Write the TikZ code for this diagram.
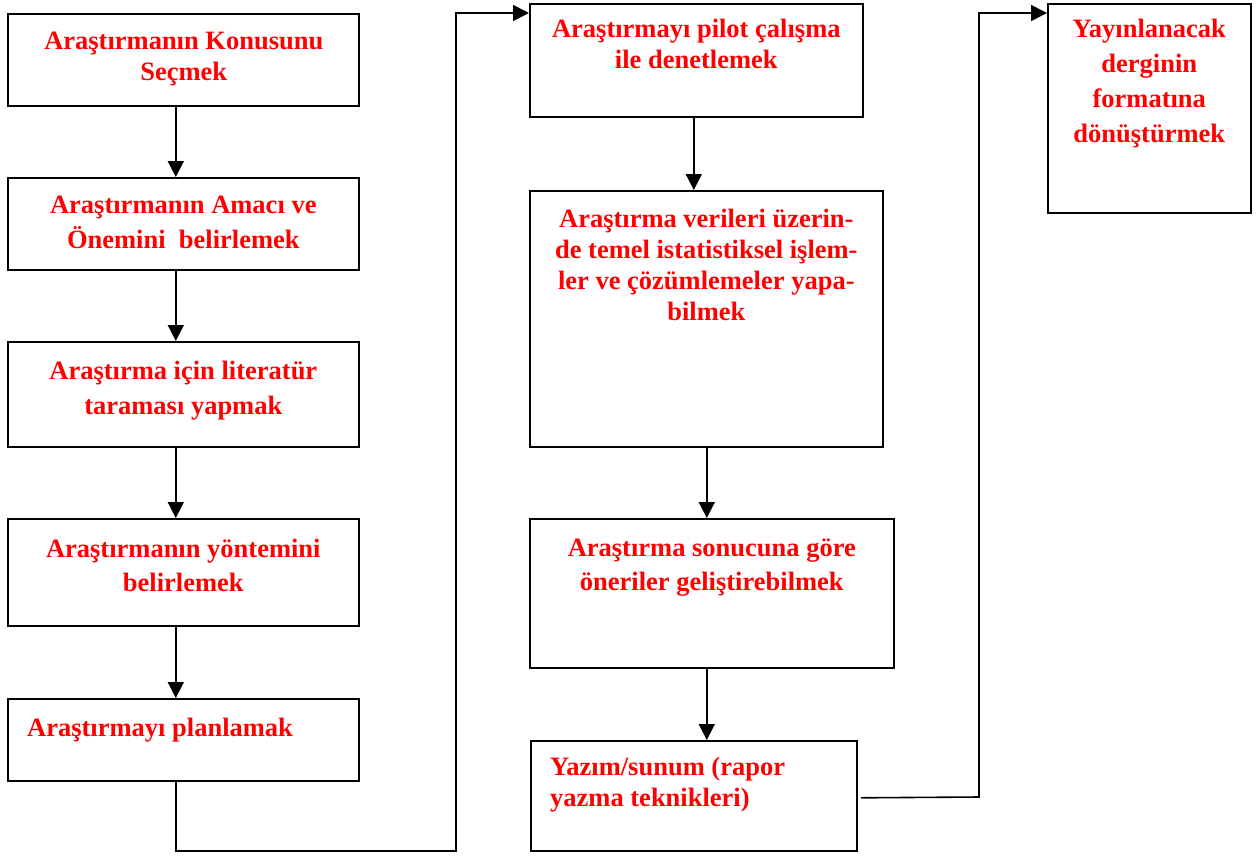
\documentclass[tikz,border=0pt]{standalone}
\usepackage{fontspec}
\setmainfont{Liberation Serif}
\usepackage{tikz}
\usetikzlibrary{positioning, arrows.meta, calc}
\definecolor{ink}{HTML}{000000}
\definecolor{stagered}{HTML}{FF0000}
\tikzset{
  stage/.style    = {rectangle, draw=ink, line width=1.6pt, fill=white,
                     inner sep=0pt, anchor=north west},
  stagetxt/.style = {font=\bfseries\fontsize{26.5}{31}\selectfont, text=stagered,
                     align=center, inner sep=0pt},
  ar/.style       = {-{Triangle[length=16pt,width=16pt]}, line width=1.6pt, draw=ink},
  ln/.style       = {line width=1.6pt, draw=ink},
}

\begin{document}
\begin{tikzpicture}[x=1pt, y=-1pt]
  \useasboundingbox (0,0) rectangle (1256,855);

  % first column
  \node[stage, minimum width=351, minimum height=92,
        label={[stagetxt, anchor=north, yshift=-19pt, xshift=0.5pt]north:{Araştırmanın Konusunu\\Seçmek}}]
        (konu) at (7,13) {};
  \node[stage, minimum width=351, minimum height=92,
        label={[stagetxt, anchor=north, yshift=-19pt]north:{Araştırmanın Amacı ve\\[4pt]Önemini~ belirlemek}}]
        (amac) at (7,177) {};
  \node[stage, minimum width=351, minimum height=105,
        label={[stagetxt, anchor=north, yshift=-20pt]north:{Araştırma için literatür\\[4pt]taraması yapmak}}]
        (lit) at (7,341) {};
  \node[stage, minimum width=351, minimum height=107,
        label={[stagetxt, anchor=north, yshift=-21pt]north:{Araştırmanın yöntemini\\[3pt]belirlemek}}]
        (yontem) at (7,518) {};
  \node[stage, minimum width=351, minimum height=82,
        label={[stagetxt, align=left, anchor=north west, xshift=20pt, yshift=-20pt]north west:{Araştırmayı planlamak}}]
        (plan) at (7,698) {};

  % second column
  \node[stage, minimum width=333, minimum height=113,
        label={[stagetxt, anchor=north, yshift=-16pt]north:{Araştırmayı pilot çalışma\\ile denetlemek}}]
        (pilot) at (529,3) {};
  \node[stage, minimum width=353, minimum height=256,
        label={[stagetxt, anchor=north, yshift=-19pt]north:{Araştırma verileri üzerin-\\de temel istatistiksel işlem-\\ler ve çözümlemeler yapa-\\bilmek}}]
        (veri) at (529,190) {};
  \node[stage, minimum width=364, minimum height=149,
        label={[stagetxt, anchor=north, yshift=-21pt]north:{Araştırma sonucuna göre\\[3pt]öneriler geliştirebilmek}}]
        (oneri) at (529,518) {};
  \node[stage, minimum width=326, minimum height=110,
        label={[stagetxt, align=left, anchor=north west, xshift=20pt, yshift=-17pt]north west:{Yazım/sunum (rapor\\yazma teknikleri)}}]
        (yazim) at (530,740) {};

  % third column
  \node[stage, minimum width=203, minimum height=209,
        label={[stagetxt, anchor=north, yshift=-16pt]north:{Yayınlanacak\\[4pt]derginin\\[4pt]formatına\\[4pt]dönüştürmek}}]
        (dergi) at (1047,3) {};

  \coordinate (lowturn) at (456,851);
  \coordinate (hiturn) at (979,797);

  \foreach \a/\b in {konu/amac, amac/lit, lit/yontem, yontem/plan}
    {\draw[ar] ([xshift=-7.5pt]\a.south) -- ([xshift=-7.5pt]\a.south |- \b.north);}

  \draw[ar] ([xshift=-2.5pt]pilot.south) -- ([xshift=-2.5pt]pilot.south |- veri.north);
  \draw[ar] ([xshift=0.5pt]veri.south) -- ([xshift=0.5pt]veri.south |- oneri.north);
  \draw[ar] ([xshift=-5pt]oneri.south) -- ([xshift=-5pt]oneri.south |- yazim.north);

  \draw[ar] ([xshift=-7.5pt]plan.south) |- (lowturn) |- ([yshift=-10pt]pilot.north west);
  \draw[ar] (yazim.east -| 861,0) ++(0,2) -- (hiturn) |- ([yshift=-10pt]dergi.north west);

\end{tikzpicture}
\end{document}
